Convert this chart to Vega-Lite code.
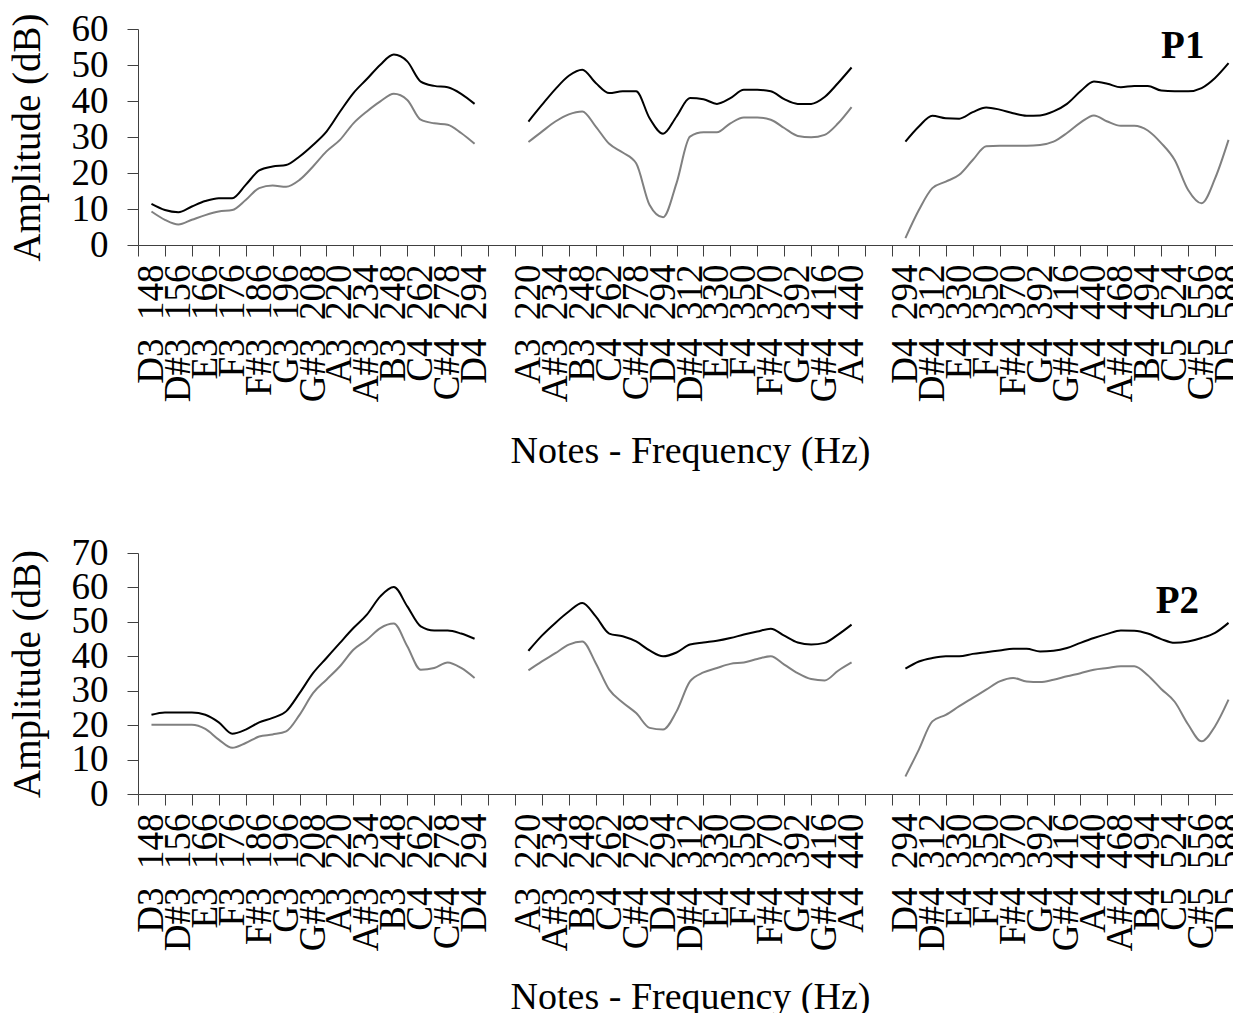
{
  "$schema": "https://vega.github.io/schema/vega-lite/v6.json",
  "background": "white",
  "padding": {"left": 8, "top": 10, "right": -13, "bottom": -4},
  "spacing": 63,
  "config": {
    "font": "Liberation Serif",
    "view": {"stroke": null},
    "axis": {
      "labelFont": "Liberation Serif",
      "titleFont": "Liberation Serif",
      "labelColor": "#000000",
      "titleColor": "#000000",
      "titleFontWeight": "normal",
      "domainColor": "#404040",
      "tickColor": "#404040",
      "grid": false,
      "labelOverlap": false
    }
  },
  "datasets": {
    "p1": [
      {"seg":1,"line":"upper","idx":0,"db":11.4},{"seg":1,"line":"upper","idx":0.5,"db":9.7},{"seg":1,"line":"upper","idx":1,"db":9.1},{"seg":1,"line":"upper","idx":1.5,"db":10.7},{"seg":1,"line":"upper","idx":2,"db":12.2},{"seg":1,"line":"upper","idx":2.5,"db":13.0},{"seg":1,"line":"upper","idx":3,"db":13.0},{"seg":1,"line":"upper","idx":3.5,"db":16.7},{"seg":1,"line":"upper","idx":4,"db":20.7},{"seg":1,"line":"upper","idx":4.5,"db":21.8},{"seg":1,"line":"upper","idx":5,"db":22.2},{"seg":1,"line":"upper","idx":5.5,"db":24.6},{"seg":1,"line":"upper","idx":6,"db":27.8},{"seg":1,"line":"upper","idx":6.5,"db":31.5},{"seg":1,"line":"upper","idx":7,"db":37.0},{"seg":1,"line":"upper","idx":7.5,"db":42.2},{"seg":1,"line":"upper","idx":8,"db":46.1},{"seg":1,"line":"upper","idx":8.5,"db":50.1},{"seg":1,"line":"upper","idx":9,"db":52.9},{"seg":1,"line":"upper","idx":9.5,"db":51.0},{"seg":1,"line":"upper","idx":10,"db":45.4},{"seg":1,"line":"upper","idx":10.5,"db":44.2},{"seg":1,"line":"upper","idx":11,"db":43.8},{"seg":1,"line":"upper","idx":11.5,"db":42.0},{"seg":1,"line":"upper","idx":12,"db":39.2},
      {"seg":1,"line":"lower","idx":0,"db":9.3},{"seg":1,"line":"lower","idx":0.5,"db":7.0},{"seg":1,"line":"lower","idx":1,"db":5.7},{"seg":1,"line":"lower","idx":1.5,"db":7.0},{"seg":1,"line":"lower","idx":2,"db":8.3},{"seg":1,"line":"lower","idx":2.5,"db":9.3},{"seg":1,"line":"lower","idx":3,"db":9.7},{"seg":1,"line":"lower","idx":3.5,"db":12.5},{"seg":1,"line":"lower","idx":4,"db":15.8},{"seg":1,"line":"lower","idx":4.5,"db":16.5},{"seg":1,"line":"lower","idx":5,"db":16.2},{"seg":1,"line":"lower","idx":5.5,"db":18.1},{"seg":1,"line":"lower","idx":6,"db":21.8},{"seg":1,"line":"lower","idx":6.5,"db":26.0},{"seg":1,"line":"lower","idx":7,"db":29.2},{"seg":1,"line":"lower","idx":7.5,"db":33.8},{"seg":1,"line":"lower","idx":8,"db":37.1},{"seg":1,"line":"lower","idx":8.5,"db":39.9},{"seg":1,"line":"lower","idx":9,"db":42.0},{"seg":1,"line":"lower","idx":9.5,"db":40.3},{"seg":1,"line":"lower","idx":10,"db":34.8},{"seg":1,"line":"lower","idx":10.5,"db":33.8},{"seg":1,"line":"lower","idx":11,"db":33.4},{"seg":1,"line":"lower","idx":11.5,"db":31.1},{"seg":1,"line":"lower","idx":12,"db":28.1},
      {"seg":2,"line":"upper","idx":14,"db":34.3},{"seg":2,"line":"upper","idx":14.5,"db":38.9},{"seg":2,"line":"upper","idx":15,"db":43.3},{"seg":2,"line":"upper","idx":15.5,"db":47.0},{"seg":2,"line":"upper","idx":16,"db":48.7},{"seg":2,"line":"upper","idx":16.5,"db":45.0},{"seg":2,"line":"upper","idx":17,"db":42.2},{"seg":2,"line":"upper","idx":17.5,"db":42.7},{"seg":2,"line":"upper","idx":18,"db":42.7},{"seg":2,"line":"upper","idx":18.5,"db":35.2},{"seg":2,"line":"upper","idx":19,"db":30.9},{"seg":2,"line":"upper","idx":19.5,"db":35.7},{"seg":2,"line":"upper","idx":20,"db":40.8},{"seg":2,"line":"upper","idx":20.5,"db":40.5},{"seg":2,"line":"upper","idx":21,"db":39.2},{"seg":2,"line":"upper","idx":21.5,"db":40.8},{"seg":2,"line":"upper","idx":22,"db":43.1},{"seg":2,"line":"upper","idx":22.5,"db":43.1},{"seg":2,"line":"upper","idx":23,"db":42.7},{"seg":2,"line":"upper","idx":23.5,"db":40.5},{"seg":2,"line":"upper","idx":24,"db":39.2},{"seg":2,"line":"upper","idx":24.5,"db":39.2},{"seg":2,"line":"upper","idx":25,"db":41.1},{"seg":2,"line":"upper","idx":25.5,"db":45.0},{"seg":2,"line":"upper","idx":26,"db":49.3},
      {"seg":2,"line":"lower","idx":14,"db":28.6},{"seg":2,"line":"lower","idx":14.5,"db":31.5},{"seg":2,"line":"lower","idx":15,"db":34.3},{"seg":2,"line":"lower","idx":15.5,"db":36.3},{"seg":2,"line":"lower","idx":16,"db":37.1},{"seg":2,"line":"lower","idx":16.5,"db":32.9},{"seg":2,"line":"lower","idx":17,"db":28.1},{"seg":2,"line":"lower","idx":17.5,"db":25.7},{"seg":2,"line":"lower","idx":18,"db":22.7},{"seg":2,"line":"lower","idx":18.5,"db":11.1},{"seg":2,"line":"lower","idx":19,"db":7.7},{"seg":2,"line":"lower","idx":19.5,"db":17.2},{"seg":2,"line":"lower","idx":20,"db":30.1},{"seg":2,"line":"lower","idx":20.5,"db":31.3},{"seg":2,"line":"lower","idx":21,"db":31.3},{"seg":2,"line":"lower","idx":21.5,"db":33.8},{"seg":2,"line":"lower","idx":22,"db":35.4},{"seg":2,"line":"lower","idx":22.5,"db":35.4},{"seg":2,"line":"lower","idx":23,"db":34.8},{"seg":2,"line":"lower","idx":23.5,"db":32.5},{"seg":2,"line":"lower","idx":24,"db":30.3},{"seg":2,"line":"lower","idx":24.5,"db":29.9},{"seg":2,"line":"lower","idx":25,"db":30.6},{"seg":2,"line":"lower","idx":25.5,"db":33.8},{"seg":2,"line":"lower","idx":26,"db":38.3},
      {"seg":3,"line":"upper","idx":28,"db":28.7},{"seg":3,"line":"upper","idx":28.5,"db":32.9},{"seg":3,"line":"upper","idx":29,"db":35.9},{"seg":3,"line":"upper","idx":29.5,"db":35.2},{"seg":3,"line":"upper","idx":30,"db":35.1},{"seg":3,"line":"upper","idx":30.5,"db":36.9},{"seg":3,"line":"upper","idx":31,"db":38.2},{"seg":3,"line":"upper","idx":31.5,"db":37.6},{"seg":3,"line":"upper","idx":32,"db":36.6},{"seg":3,"line":"upper","idx":32.5,"db":35.9},{"seg":3,"line":"upper","idx":33,"db":36.0},{"seg":3,"line":"upper","idx":33.5,"db":37.1},{"seg":3,"line":"upper","idx":34,"db":39.2},{"seg":3,"line":"upper","idx":34.5,"db":42.7},{"seg":3,"line":"upper","idx":35,"db":45.4},{"seg":3,"line":"upper","idx":35.5,"db":44.8},{"seg":3,"line":"upper","idx":36,"db":43.8},{"seg":3,"line":"upper","idx":36.5,"db":44.2},{"seg":3,"line":"upper","idx":37,"db":44.2},{"seg":3,"line":"upper","idx":37.5,"db":42.9},{"seg":3,"line":"upper","idx":38,"db":42.7},{"seg":3,"line":"upper","idx":38.5,"db":42.7},{"seg":3,"line":"upper","idx":39,"db":43.6},{"seg":3,"line":"upper","idx":39.5,"db":46.4},{"seg":3,"line":"upper","idx":40,"db":50.5},
      {"seg":3,"line":"lower","idx":28,"db":1.9},{"seg":3,"line":"lower","idx":28.5,"db":9.7},{"seg":3,"line":"lower","idx":29,"db":15.8},{"seg":3,"line":"lower","idx":29.5,"db":17.6},{"seg":3,"line":"lower","idx":30,"db":19.5},{"seg":3,"line":"lower","idx":30.5,"db":23.6},{"seg":3,"line":"lower","idx":31,"db":27.4},{"seg":3,"line":"lower","idx":31.5,"db":27.6},{"seg":3,"line":"lower","idx":32,"db":27.6},{"seg":3,"line":"lower","idx":32.5,"db":27.6},{"seg":3,"line":"lower","idx":33,"db":27.8},{"seg":3,"line":"lower","idx":33.5,"db":28.7},{"seg":3,"line":"lower","idx":34,"db":31.1},{"seg":3,"line":"lower","idx":34.5,"db":34.0},{"seg":3,"line":"lower","idx":35,"db":36.0},{"seg":3,"line":"lower","idx":35.5,"db":34.3},{"seg":3,"line":"lower","idx":36,"db":33.1},{"seg":3,"line":"lower","idx":36.5,"db":33.1},{"seg":3,"line":"lower","idx":37,"db":31.8},{"seg":3,"line":"lower","idx":37.5,"db":28.3},{"seg":3,"line":"lower","idx":38,"db":23.6},{"seg":3,"line":"lower","idx":38.5,"db":15.3},{"seg":3,"line":"lower","idx":39,"db":11.6},{"seg":3,"line":"lower","idx":39.5,"db":18.5},{"seg":3,"line":"lower","idx":40,"db":29.2}
    ],
    "p2": [
      {"seg":1,"line":"upper","idx":0,"db":23.0},{"seg":1,"line":"upper","idx":0.5,"db":23.7},{"seg":1,"line":"upper","idx":1,"db":23.7},{"seg":1,"line":"upper","idx":1.5,"db":23.7},{"seg":1,"line":"upper","idx":2,"db":23.0},{"seg":1,"line":"upper","idx":2.5,"db":20.8},{"seg":1,"line":"upper","idx":3,"db":17.5},{"seg":1,"line":"upper","idx":3.5,"db":18.7},{"seg":1,"line":"upper","idx":4,"db":20.8},{"seg":1,"line":"upper","idx":4.5,"db":22.1},{"seg":1,"line":"upper","idx":5,"db":24.0},{"seg":1,"line":"upper","idx":5.5,"db":29.3},{"seg":1,"line":"upper","idx":6,"db":35.1},{"seg":1,"line":"upper","idx":6.5,"db":39.5},{"seg":1,"line":"upper","idx":7,"db":43.9},{"seg":1,"line":"upper","idx":7.5,"db":48.2},{"seg":1,"line":"upper","idx":8,"db":52.1},{"seg":1,"line":"upper","idx":8.5,"db":57.4},{"seg":1,"line":"upper","idx":9,"db":60.1},{"seg":1,"line":"upper","idx":9.5,"db":54.5},{"seg":1,"line":"upper","idx":10,"db":48.7},{"seg":1,"line":"upper","idx":10.5,"db":47.5},{"seg":1,"line":"upper","idx":11,"db":47.5},{"seg":1,"line":"upper","idx":11.5,"db":46.6},{"seg":1,"line":"upper","idx":12,"db":45.1},
      {"seg":1,"line":"lower","idx":0,"db":20.1},{"seg":1,"line":"lower","idx":0.5,"db":20.1},{"seg":1,"line":"lower","idx":1,"db":20.1},{"seg":1,"line":"lower","idx":1.5,"db":20.1},{"seg":1,"line":"lower","idx":2,"db":18.9},{"seg":1,"line":"lower","idx":2.5,"db":15.8},{"seg":1,"line":"lower","idx":3,"db":13.4},{"seg":1,"line":"lower","idx":3.5,"db":14.8},{"seg":1,"line":"lower","idx":4,"db":16.7},{"seg":1,"line":"lower","idx":4.5,"db":17.3},{"seg":1,"line":"lower","idx":5,"db":18.2},{"seg":1,"line":"lower","idx":5.5,"db":23.0},{"seg":1,"line":"lower","idx":6,"db":29.3},{"seg":1,"line":"lower","idx":6.5,"db":33.2},{"seg":1,"line":"lower","idx":7,"db":37.1},{"seg":1,"line":"lower","idx":7.5,"db":41.9},{"seg":1,"line":"lower","idx":8,"db":44.8},{"seg":1,"line":"lower","idx":8.5,"db":48.2},{"seg":1,"line":"lower","idx":9,"db":49.5},{"seg":1,"line":"lower","idx":9.5,"db":42.9},{"seg":1,"line":"lower","idx":10,"db":36.1},{"seg":1,"line":"lower","idx":10.5,"db":36.6},{"seg":1,"line":"lower","idx":11,"db":38.2},{"seg":1,"line":"lower","idx":11.5,"db":36.6},{"seg":1,"line":"lower","idx":12,"db":33.7},
      {"seg":2,"line":"upper","idx":14,"db":41.6},{"seg":2,"line":"upper","idx":14.5,"db":46.0},{"seg":2,"line":"upper","idx":15,"db":49.7},{"seg":2,"line":"upper","idx":15.5,"db":53.0},{"seg":2,"line":"upper","idx":16,"db":55.5},{"seg":2,"line":"upper","idx":16.5,"db":51.6},{"seg":2,"line":"upper","idx":17,"db":46.6},{"seg":2,"line":"upper","idx":17.5,"db":45.8},{"seg":2,"line":"upper","idx":18,"db":44.3},{"seg":2,"line":"upper","idx":18.5,"db":41.7},{"seg":2,"line":"upper","idx":19,"db":40.0},{"seg":2,"line":"upper","idx":19.5,"db":41.1},{"seg":2,"line":"upper","idx":20,"db":43.4},{"seg":2,"line":"upper","idx":20.5,"db":44.0},{"seg":2,"line":"upper","idx":21,"db":44.5},{"seg":2,"line":"upper","idx":21.5,"db":45.3},{"seg":2,"line":"upper","idx":22,"db":46.3},{"seg":2,"line":"upper","idx":22.5,"db":47.2},{"seg":2,"line":"upper","idx":23,"db":48.0},{"seg":2,"line":"upper","idx":23.5,"db":46.0},{"seg":2,"line":"upper","idx":24,"db":44.0},{"seg":2,"line":"upper","idx":24.5,"db":43.4},{"seg":2,"line":"upper","idx":25,"db":43.9},{"seg":2,"line":"upper","idx":25.5,"db":46.3},{"seg":2,"line":"upper","idx":26,"db":49.2},
      {"seg":2,"line":"lower","idx":14,"db":35.9},{"seg":2,"line":"lower","idx":14.5,"db":38.5},{"seg":2,"line":"lower","idx":15,"db":40.9},{"seg":2,"line":"lower","idx":15.5,"db":43.4},{"seg":2,"line":"lower","idx":16,"db":44.3},{"seg":2,"line":"lower","idx":16.5,"db":38.0},{"seg":2,"line":"lower","idx":17,"db":30.3},{"seg":2,"line":"lower","idx":17.5,"db":26.6},{"seg":2,"line":"lower","idx":18,"db":23.5},{"seg":2,"line":"lower","idx":18.5,"db":19.2},{"seg":2,"line":"lower","idx":19,"db":18.7},{"seg":2,"line":"lower","idx":19.5,"db":24.0},{"seg":2,"line":"lower","idx":20,"db":32.7},{"seg":2,"line":"lower","idx":20.5,"db":35.3},{"seg":2,"line":"lower","idx":21,"db":36.6},{"seg":2,"line":"lower","idx":21.5,"db":37.8},{"seg":2,"line":"lower","idx":22,"db":38.2},{"seg":2,"line":"lower","idx":22.5,"db":39.2},{"seg":2,"line":"lower","idx":23,"db":40.0},{"seg":2,"line":"lower","idx":23.5,"db":37.6},{"seg":2,"line":"lower","idx":24,"db":35.1},{"seg":2,"line":"lower","idx":24.5,"db":33.4},{"seg":2,"line":"lower","idx":25,"db":33.0},{"seg":2,"line":"lower","idx":25.5,"db":35.8},{"seg":2,"line":"lower","idx":26,"db":38.2},
      {"seg":3,"line":"upper","idx":28,"db":36.4},{"seg":3,"line":"upper","idx":28.5,"db":38.5},{"seg":3,"line":"upper","idx":29,"db":39.5},{"seg":3,"line":"upper","idx":29.5,"db":40.0},{"seg":3,"line":"upper","idx":30,"db":40.0},{"seg":3,"line":"upper","idx":30.5,"db":40.7},{"seg":3,"line":"upper","idx":31,"db":41.2},{"seg":3,"line":"upper","idx":31.5,"db":41.7},{"seg":3,"line":"upper","idx":32,"db":42.2},{"seg":3,"line":"upper","idx":32.5,"db":42.2},{"seg":3,"line":"upper","idx":33,"db":41.4},{"seg":3,"line":"upper","idx":33.5,"db":41.6},{"seg":3,"line":"upper","idx":34,"db":42.4},{"seg":3,"line":"upper","idx":34.5,"db":43.9},{"seg":3,"line":"upper","idx":35,"db":45.3},{"seg":3,"line":"upper","idx":35.5,"db":46.5},{"seg":3,"line":"upper","idx":36,"db":47.5},{"seg":3,"line":"upper","idx":36.5,"db":47.4},{"seg":3,"line":"upper","idx":37,"db":46.6},{"seg":3,"line":"upper","idx":37.5,"db":45.0},{"seg":3,"line":"upper","idx":38,"db":43.9},{"seg":3,"line":"upper","idx":38.5,"db":44.3},{"seg":3,"line":"upper","idx":39,"db":45.3},{"seg":3,"line":"upper","idx":39.5,"db":46.8},{"seg":3,"line":"upper","idx":40,"db":49.7},
      {"seg":3,"line":"lower","idx":28,"db":5.1},{"seg":3,"line":"lower","idx":28.5,"db":12.9},{"seg":3,"line":"lower","idx":29,"db":21.1},{"seg":3,"line":"lower","idx":29.5,"db":23.0},{"seg":3,"line":"lower","idx":30,"db":25.5},{"seg":3,"line":"lower","idx":30.5,"db":27.9},{"seg":3,"line":"lower","idx":31,"db":30.3},{"seg":3,"line":"lower","idx":31.5,"db":32.7},{"seg":3,"line":"lower","idx":32,"db":33.7},{"seg":3,"line":"lower","idx":32.5,"db":32.7},{"seg":3,"line":"lower","idx":33,"db":32.5},{"seg":3,"line":"lower","idx":33.5,"db":33.2},{"seg":3,"line":"lower","idx":34,"db":34.2},{"seg":3,"line":"lower","idx":34.5,"db":35.1},{"seg":3,"line":"lower","idx":35,"db":36.1},{"seg":3,"line":"lower","idx":35.5,"db":36.6},{"seg":3,"line":"lower","idx":36,"db":37.1},{"seg":3,"line":"lower","idx":36.5,"db":37.1},{"seg":3,"line":"lower","idx":37,"db":34.5},{"seg":3,"line":"lower","idx":37.5,"db":30.5},{"seg":3,"line":"lower","idx":38,"db":26.8},{"seg":3,"line":"lower","idx":38.5,"db":20.2},{"seg":3,"line":"lower","idx":39,"db":15.3},{"seg":3,"line":"lower","idx":39.5,"db":19.7},{"seg":3,"line":"lower","idx":40,"db":27.4}
    ]
  },
  "vconcat": [
    {
      "width": 1104,
      "height": 216,
      "layer": [
        {
          "data": {"name": "p1"},
          "mark": {"type": "line", "interpolate": "monotone", "strokeWidth": 2},
          "encoding": {
            "x": {
              "field": "idx", "type": "quantitative",
              "scale": {"domain": [-0.5, 40.5], "nice": false, "zero": false},
              "axis": {
                "values": [0,1,2,3,4,5,6,7,8,9,10,11,12,13,14,15,16,17,18,19,20,21,22,23,24,25,26,27,28,29,30,31,32,33,34,35,36,37,38,39,40],
                "tickCount": 100,
                "tickOffset": -13.46, "labelOffset": 13.46,
                "labelExpr": "['D3\u00a0\u00a0148','D#3\u00a0\u00a0156','E3\u00a0\u00a0166','F3\u00a0\u00a0176','F#3\u00a0\u00a0186','G3\u00a0\u00a0196','G#3\u00a0\u00a0208','A3\u00a0\u00a0220','A#3\u00a0\u00a0234','B3\u00a0\u00a0248','C4\u00a0\u00a0262','C#4\u00a0\u00a0278','D4\u00a0\u00a0294','','A3\u00a0\u00a0220','A#3\u00a0\u00a0234','B3\u00a0\u00a0248','C4\u00a0\u00a0262','C#4\u00a0\u00a0278','D4\u00a0\u00a0294','D#4\u00a0\u00a0312','E4\u00a0\u00a0330','F4\u00a0\u00a0350','F#4\u00a0\u00a0370','G4\u00a0\u00a0392','G#4\u00a0\u00a0416','A4\u00a0\u00a0440','','D4\u00a0\u00a0294','D#4\u00a0\u00a0312','E4\u00a0\u00a0330','F4\u00a0\u00a0350','F#4\u00a0\u00a0370','G4\u00a0\u00a0392','G#4\u00a0\u00a0416','A4\u00a0\u00a0440','A#4\u00a0\u00a0468','B4\u00a0\u00a0494','C5\u00a0\u00a0524','C#5\u00a0\u00a0556','D5\u00a0\u00a0588'][datum.value]",
                "labelAngle": 270, "labelFontSize": 37, "labelPadding": 8,
                "labelOverlap": false, "labelFlush": false, "tickSize": 11,
                "title": "Notes - Frequency (Hz)", "titleFontSize": 38, "titlePadding": 31
              }
            },
            "y": {
              "field": "db", "type": "quantitative",
              "scale": {"domain": [0, 60], "nice": false},
              "axis": {
                "values": [0,10,20,30,40,50,60],
                "tickCount": 100, "format": "d",
                "labelFontSize": 37, "labelPadding": 19, "tickSize": 11,
                "labelOverlap": false,
                "title": "Amplitude (dB)", "titleFontSize": 39, "titlePadding": 24
              }
            },
            "color": {"field": "line", "type": "nominal", "scale": {"domain": ["upper", "lower"], "range": ["#000000", "#808080"]}, "legend": null},
            "detail": {"field": "seg", "type": "nominal"}
          }
        },
        {
          "data": {"values": [{}]},
          "mark": {"type": "text", "font": "Liberation Serif", "fontWeight": "bold", "fontSize": 39, "baseline": "alphabetic", "align": "center", "color": "#000000"},
          "encoding": {
            "x": {"datum": 38.3, "type": "quantitative"},
            "y": {"datum": 52, "type": "quantitative"},
            "text": {"value": "P1"}
          }
        }
      ]
    },
    {
      "width": 1104,
      "height": 241,
      "layer": [
        {
          "data": {"name": "p2"},
          "mark": {"type": "line", "interpolate": "monotone", "strokeWidth": 2},
          "encoding": {
            "x": {
              "field": "idx", "type": "quantitative",
              "scale": {"domain": [-0.5, 40.5], "nice": false, "zero": false},
              "axis": {
                "values": [0,1,2,3,4,5,6,7,8,9,10,11,12,13,14,15,16,17,18,19,20,21,22,23,24,25,26,27,28,29,30,31,32,33,34,35,36,37,38,39,40],
                "tickCount": 100,
                "tickOffset": -13.46, "labelOffset": 13.46,
                "labelExpr": "['D3\u00a0\u00a0148','D#3\u00a0\u00a0156','E3\u00a0\u00a0166','F3\u00a0\u00a0176','F#3\u00a0\u00a0186','G3\u00a0\u00a0196','G#3\u00a0\u00a0208','A3\u00a0\u00a0220','A#3\u00a0\u00a0234','B3\u00a0\u00a0248','C4\u00a0\u00a0262','C#4\u00a0\u00a0278','D4\u00a0\u00a0294','','A3\u00a0\u00a0220','A#3\u00a0\u00a0234','B3\u00a0\u00a0248','C4\u00a0\u00a0262','C#4\u00a0\u00a0278','D4\u00a0\u00a0294','D#4\u00a0\u00a0312','E4\u00a0\u00a0330','F4\u00a0\u00a0350','F#4\u00a0\u00a0370','G4\u00a0\u00a0392','G#4\u00a0\u00a0416','A4\u00a0\u00a0440','','D4\u00a0\u00a0294','D#4\u00a0\u00a0312','E4\u00a0\u00a0330','F4\u00a0\u00a0350','F#4\u00a0\u00a0370','G4\u00a0\u00a0392','G#4\u00a0\u00a0416','A4\u00a0\u00a0440','A#4\u00a0\u00a0468','B4\u00a0\u00a0494','C5\u00a0\u00a0524','C#5\u00a0\u00a0556','D5\u00a0\u00a0588'][datum.value]",
                "labelAngle": 270, "labelFontSize": 37, "labelPadding": 8,
                "labelOverlap": false, "labelFlush": false, "tickSize": 11,
                "title": "Notes - Frequency (Hz)", "titleFontSize": 38, "titlePadding": 28
              }
            },
            "y": {
              "field": "db", "type": "quantitative",
              "scale": {"domain": [0, 70], "nice": false},
              "axis": {
                "values": [0,10,20,30,40,50,60,70],
                "tickCount": 100, "format": "d",
                "labelFontSize": 37, "labelPadding": 19, "tickSize": 11,
                "labelOverlap": false,
                "title": "Amplitude (dB)", "titleFontSize": 39, "titlePadding": 24
              }
            },
            "color": {"field": "line", "type": "nominal", "scale": {"domain": ["upper", "lower"], "range": ["#000000", "#808080"]}, "legend": null},
            "detail": {"field": "seg", "type": "nominal"}
          }
        },
        {
          "data": {"values": [{}]},
          "mark": {"type": "text", "font": "Liberation Serif", "fontWeight": "bold", "fontSize": 39, "baseline": "alphabetic", "align": "center", "color": "#000000"},
          "encoding": {
            "x": {"datum": 38.1, "type": "quantitative"},
            "y": {"datum": 52.7, "type": "quantitative"},
            "text": {"value": "P2"}
          }
        }
      ]
    }
  ]
}
